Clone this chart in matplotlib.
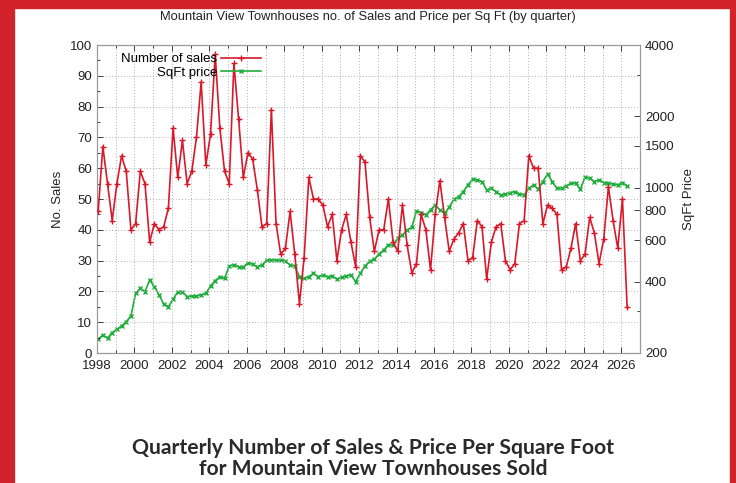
import numpy as np
import matplotlib
matplotlib.use("Agg")
import matplotlib.pyplot as plt
from matplotlib.ticker import MultipleLocator, FixedLocator, NullFormatter
from matplotlib.patches import Rectangle

plt.rcParams['font.family'] = ['Liberation Sans', 'DejaVu Sans']

start_year = 1998

# quarterly number of sales, 1998 Q1 .. 2026 Q2
sales = [46, 67, 55, 43, 55, 64, 59, 40, 42, 59, 55, 36, 42, 40, 41, 47,
         73, 57, 69, 55, 59, 70, 88, 61, 71, 97, 73, 59, 55, 94, 76, 57,
         65, 63, 53, 41, 42, 79, 42, 32, 34, 46, 32, 16, 31, 57, 50, 50,
         48, 41, 45, 30, 40, 45, 36, 28, 64, 62, 44, 33, 40, 40, 50, 36,
         33, 48, 35, 26, 29, 45, 40, 27, 45, 56, 44, 33, 37, 39, 42, 30,
         31, 43, 41, 24, 36, 41, 42, 30, 27, 29, 42, 43, 64, 60, 60, 42,
         48, 47, 45, 27, 28, 34, 42, 30, 32, 44, 39, 29, 37, 54, 43, 34,
         50, 15]

# quarterly price per sq ft
sqft_price = [229, 238, 231, 244, 252, 260, 271, 287, 357, 375, 363, 407,
              381, 352, 322, 314, 337, 363, 363, 346, 348, 348, 352, 357,
              384, 404, 420, 413, 466, 471, 463, 461, 481, 474, 463, 471,
              494, 494, 494, 492, 488, 471, 466, 420, 413, 420, 434, 420,
              427, 420, 423, 410, 418, 423, 427, 400, 434, 466, 488, 498,
              524, 545, 572, 572, 610, 630, 661, 679, 796, 783, 766, 804,
              844, 804, 778, 826, 892, 915, 960, 1026, 1084, 1077, 1060, 976,
              992, 960, 930, 936, 952, 960, 940, 930, 992, 1026, 983, 1060,
              1140, 1060, 992, 992, 1016, 1042, 1042, 983, 1104, 1097, 1060, 1077,
              1050, 1042, 1035, 1026, 1050, 1016]

year_ticks = list(range(1998, 2027, 2))
price_ticks = [200, 400, 600, 800, 1000, 1500, 2000, 4000]

quarter_idx = np.arange(len(sales))
x = start_year + (quarter_idx + 0.25) / 4

red = '#d7192a'
green = '#1fae3c'

fig = plt.figure(figsize=(7.36, 4.83), dpi=100)
fig.patch.set_facecolor('white')

# red frame strips
fig.patches.append(Rectangle((0, 0), 14 / 736, 1, transform=fig.transFigure,
                             color='#d3232a', zorder=0))
fig.patches.append(Rectangle((730 / 736, 0), 6 / 736, 1, transform=fig.transFigure,
                             color='#d3232a', zorder=0))
fig.patches.append(Rectangle((0, 1 - 8 / 483), 1, 8 / 483, transform=fig.transFigure,
                             color='#d3232a', zorder=0))

ax = fig.add_axes([97 / 736, 130 / 483, 543 / 736, 308 / 483])
ax2 = ax.twinx()

ax.plot(x, sales, color=red, lw=1.2, marker='+', ms=5, mew=1.0,
        label='Number of sales', zorder=3)
ax2.plot(x, sqft_price, color=green, lw=1.2, marker='x', ms=3.5, mew=1.0,
         label='SqFt price', zorder=2)

ax.set_xlim(1998, 2027)
ax.set_ylim(0, 100)
ax.set_xticks(year_ticks)
ax.xaxis.set_minor_locator(MultipleLocator(1))
ax.yaxis.set_major_locator(MultipleLocator(10))
ax.yaxis.set_minor_locator(MultipleLocator(5))
ax.grid(True, which='both', axis='x', color='#b0b0b0', ls=(0, (1, 2)), lw=0.7)
ax.grid(True, which='major', axis='y', color='#b0b0b0', ls=(0, (1, 2)), lw=0.7)

ax2.set_yscale('log')
ax2.set_ylim(200, 4000)
ax2.yaxis.set_major_locator(FixedLocator(price_ticks))
ax2.yaxis.set_minor_locator(FixedLocator([300, 3000]))
ax2.yaxis.set_minor_formatter(NullFormatter())
ax2.set_yticklabels([str(v) for v in price_ticks])

for a in (ax, ax2):
    a.tick_params(which='both', direction='in', top=True, labelsize=9.5,
                  colors='#222222', length=4, width=0.6)
    a.tick_params(which='minor', length=2)
    for s in a.spines.values():
        s.set_color('#999999')
        s.set_linewidth(0.8)
ax.tick_params(axis='y', which='both', right=False)
ax.tick_params(axis='x', pad=5)

ax.set_ylabel('No. Sales', fontsize=9.5, color='#222222', labelpad=4)
ax2.set_ylabel('SqFt Price', fontsize=9.5, color='#222222', labelpad=6)

ax.set_zorder(ax2.get_zorder() + 1)
ax.patch.set_visible(False)

h1, l1 = ax.get_legend_handles_labels()
h2, l2 = ax2.get_legend_handles_labels()
ax.legend(h1 + h2, l1 + l2, loc='upper left', bbox_to_anchor=(0.03, 1.0),
          frameon=False, fontsize=9.5, markerfirst=False, handlelength=3,
          handletextpad=0.3, borderpad=0.1, labelspacing=0.1)

fig.text(0.5, 1 - 17 / 483, 'Mountain View Townhouses no. of Sales and Price per Sq Ft (by quarter)',
         ha='center', va='center', fontsize=9.3, color='#222222')

fig.text(373 / 736, 1 - 448 / 483, 'Quarterly Number of Sales & Price Per Square Foot',
         ha='center', va='center', fontsize=15.2, fontweight='bold',
         family=['Lato', 'DejaVu Sans'], color='#2a2a2a')
fig.text(373 / 736, 1 - 469 / 483, 'for Mountain View Townhouses Sold',
         ha='center', va='center', fontsize=15.2, fontweight='bold',
         family=['Lato', 'DejaVu Sans'], color='#2a2a2a')

fig.savefig('out.png', dpi=100)
